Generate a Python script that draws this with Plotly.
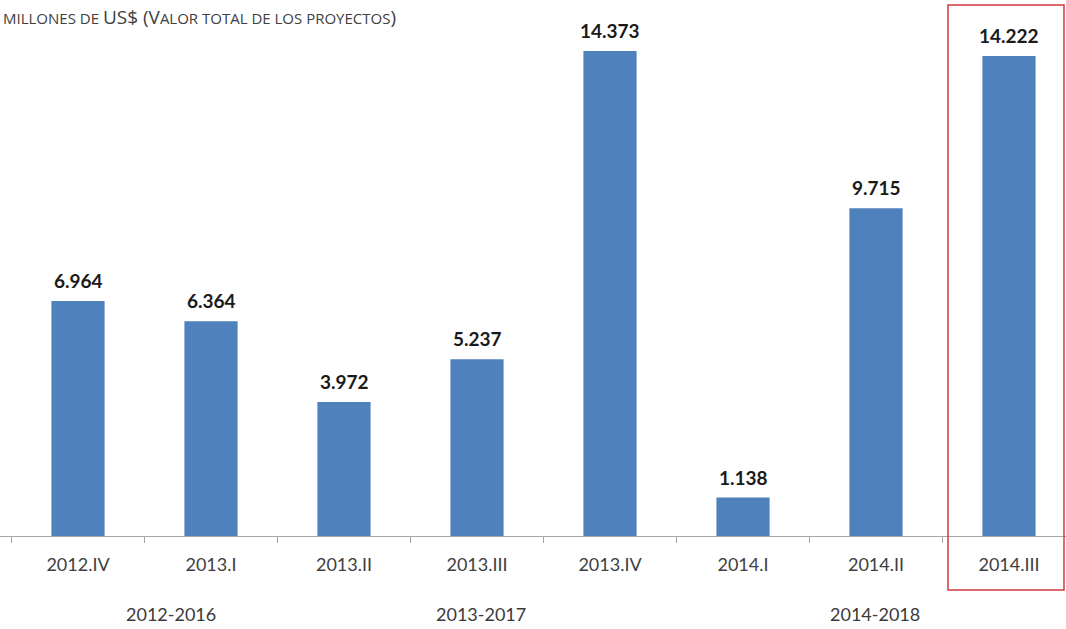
import plotly.graph_objects as go

categories = ["2012.IV", "2013.I", "2013.II", "2013.III", "2013.IV", "2014.I", "2014.II", "2014.III"]
values = [6964, 6364, 3972, 5237, 14373, 1138, 9715, 14222]
group_labels = ["2012-2016", "2013-2017", "2014-2018"]
group_positions = [0.7, 3.03, 5.99]

W, H = 1066, 629
BOTTOM = 93
PLOT_H = H - BOTTOM
FONT = "Lato, Open Sans, sans-serif"

def fmt(v):
    return f"{v:,}".replace(",", ".")

fig = go.Figure()
fig.add_trace(go.Bar(
    x=categories, y=values,
    marker=dict(color="#4F81BD", line=dict(width=0)),
    width=0.4,
    hoverinfo="skip",
))

annotations = []
for c, v in zip(categories, values):
    annotations.append(dict(
        x=c, y=v, xref="x", yref="y", text=f"<b>{fmt(v)}</b>",
        showarrow=False, yanchor="bottom", yshift=7,
        font=dict(family=FONT, size=19, color="#1a1a1a"),
    ))
for g, p in zip(group_labels, group_positions):
    annotations.append(dict(
        x=p, y=-(627 - PLOT_H) / PLOT_H, xref="x", yref="paper", text=g,
        showarrow=False, yanchor="bottom", xanchor="center",
        font=dict(family=FONT, size=18, color="#3a3a3a"),
    ))

small = "<span style='font-size:15px'>"
big = "<span style='font-size:19px'>"
title = (small + "MILLONES DE </span>" + big + "US$ (V</span>" + small +
         "ALOR TOTAL DE LOS PROYECTOS</span>" + big + ")</span>")
annotations.append(dict(
    x=1 / W, y=(PLOT_H - 17) / PLOT_H, xref="paper", yref="paper", text=title,
    showarrow=False, xanchor="left", yanchor="middle",
    font=dict(family="Open Sans, sans-serif", size=19, color="#404040"),
))

x0 = -0.5 - 11.5 / 133
x1 = (W - 11.5) / 133 - 0.5

fig.update_layout(
    width=W, height=H,
    margin=dict(l=0, r=0, t=0, b=BOTTOM),
    paper_bgcolor="white", plot_bgcolor="white",
    showlegend=False,
    annotations=annotations,
    xaxis=dict(
        type="category", range=[x0, x1],
        showline=True, linecolor="#A6A6A6", linewidth=1,
        ticks="outside", tickson="boundaries", ticklen=6, tickcolor="#A6A6A6",
        ticklabelstandoff=12,
        tickfont=dict(family=FONT, size=18, color="#404040"),
        showgrid=False, zeroline=False,
    ),
    yaxis=dict(
        range=[0, PLOT_H * 14373 / 485], visible=False, showgrid=False, zeroline=False,
    ),
    shapes=[dict(
        type="rect", xref="paper", yref="paper",
        x0=948 / W, x1=1064 / W,
        y0=-(590 - PLOT_H) / PLOT_H, y1=(PLOT_H - 5) / PLOT_H,
        line=dict(color="#D0383E", width=1.5), fillcolor="rgba(0,0,0,0)",
    )],
)

fig.write_html("out.html")
